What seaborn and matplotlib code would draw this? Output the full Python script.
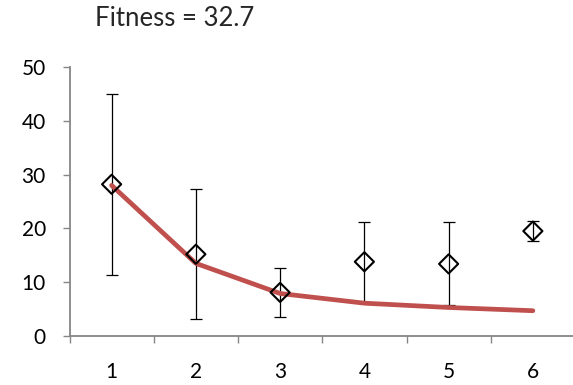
import matplotlib
matplotlib.use("Agg")
import matplotlib.pyplot as plt
import seaborn as sns
import pandas as pd
import numpy as np

# Observed values with their error ranges, and the fitted curve
stages = [1, 2, 3, 4, 5, 6]
observed = [28.2, 15.2, 8.1, 13.8, 13.4, 19.5]
err_low = [11.3, 3.2, 3.5, 6.3, 5.8, 17.7]
err_high = [45.0, 27.4, 12.7, 21.1, 21.1, 21.4]
fitted = [28.0, 13.5, 7.9, 6.1, 5.3, 4.7]
title_text = "Fitness = 32.7"
y_ticks = [0, 10, 20, 30, 40, 50]

sns.set_theme(style="white")
plt.rcParams["font.family"] = ["Lato", "DejaVu Sans"]

df = pd.DataFrame({"stage": stages, "observed": observed,
                   "low": err_low, "high": err_high, "fitted": fitted})

fig = plt.figure(figsize=(5.73, 3.85), dpi=100)
ax = fig.add_axes([69.5 / 573, 1 - 336 / 385, (575 - 69.5) / 573, (336 - 67) / 385])

# Error bars behind the fitted curve
yerr = np.array([df["observed"] - df["low"], df["high"] - df["observed"]])
ax.errorbar(df["stage"], df["observed"], yerr=yerr, fmt="none",
            ecolor="black", elinewidth=0.9, capsize=4, capthick=0.9, zorder=2)

sns.lineplot(data=df, x="stage", y="fitted", ax=ax, color="#C0504D",
             linewidth=3.4, zorder=3, solid_capstyle="round")

sns.scatterplot(data=df, x="stage", y="observed", ax=ax, marker="D", s=95,
                facecolor="none", edgecolor="black", linewidth=1.5, zorder=4)

ax.set_xlim(0.5, 6.5)
ax.set_ylim(0, 50)
ax.set_yticks(y_ticks)
ax.set_xticks(stages)
ax.set_xticks(np.arange(0.5, 6.6, 1.0), minor=True)
ax.set_xlabel("")
ax.set_ylabel("")

for side in ["top", "right"]:
    ax.spines[side].set_visible(False)
for side in ["left", "bottom"]:
    ax.spines[side].set_color("#868686")
    ax.spines[side].set_linewidth(1.3)

ax.tick_params(axis="y", which="major", length=5, width=1, color="#868686",
               direction="out", left=True, labelsize=15, pad=12, labelcolor="black")
ax.tick_params(axis="x", which="major", length=0, labelsize=15, pad=19, labelcolor="black")
ax.tick_params(axis="x", which="minor", length=5, width=1, color="#868686",
               direction="out", bottom=True)

fig.text(175 / 573, 1 - 18 / 385, title_text, ha="center", va="center", fontsize=18.5)

fig.savefig("out.png", dpi=100)
